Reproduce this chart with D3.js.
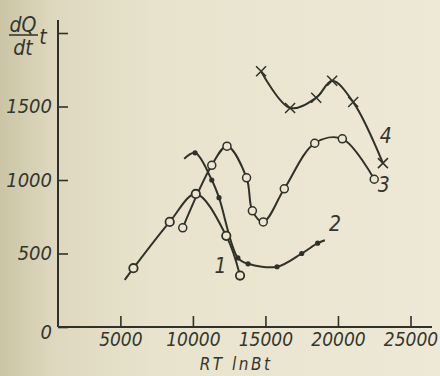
<!DOCTYPE html>
<html><head><meta charset="utf-8">
<script src="https://cdn.jsdelivr.net/npm/d3@7"></script>
<style>
html,body{margin:0;padding:0;background:#ebe6d0;}
svg{display:block;}
text{font-family:"Liberation Sans Narrow","DejaVu Sans Condensed",sans-serif;font-style:italic;fill:#33362c;}
</style></head>
<body><svg id="c" width="440" height="376"></svg>
<script>
// Data
const xTicks = [5000, 10000, 15000, 20000, 25000];
const yTicks = [0, 500, 1000, 1500, 2000];
const yTickLabels = ["0", "500", "1000", "1500", ""];
const curveNames = ["1", "2", "3", "4"];
const curve1 = [[5300, 320], [5900, 400], [8400, 715], [10200, 905], [12300, 620], [13250, 350]];
const curve1Marked = [false, true, true, true, true, true];
const curve2 = [[9400, 1145], [10150, 1185], [11300, 1000], [11800, 880], [13100, 470], [13800, 430], [15800, 410], [17500, 500], [18600, 570], [19100, 590]];
const curve2Marked = [false, true, true, true, true, true, true, true, true, false];
const curve3 = [[9300, 675], [11300, 1100], [12350, 1230], [13700, 1015], [14100, 790], [14850, 715], [16300, 940], [18400, 1250], [20300, 1280], [22500, 1005]];
const curve4 = [[14700, 1740], [16700, 1490], [18500, 1560], [19600, 1675], [21050, 1530], [23100, 1115]];
const labelPos = [[11900, 365], [19800, 650], [23150, 920], [23300, 1250]];

const ink = "#2f3229";
const svg = d3.select("#c");
const defs = svg.append("defs");
const g = defs.append("linearGradient").attr("id", "bg").attr("x1", 0).attr("x2", 1).attr("y1", 0).attr("y2", 0);
g.append("stop").attr("offset", "0").attr("stop-color", "#cbc5a6");
g.append("stop").attr("offset", "0.12").attr("stop-color", "#ddd8be");
g.append("stop").attr("offset", "0.35").attr("stop-color", "#e8e3cc");
g.append("stop").attr("offset", "1").attr("stop-color", "#eee9d6");
svg.append("rect").attr("width", 440).attr("height", 376).attr("fill", "url(#bg)");

const x = d3.scaleLinear().domain([700, 26000]).range([58, 425]);
const y = d3.scaleLinear().domain([0, 2000]).range([327, 33]);

// axes
const xAxis = d3.axisBottom(x).tickValues(xTicks).tickSize(-11).tickPadding(6).tickFormat(d3.format("d"));
const xa = svg.append("g").attr("transform", `translate(0,${y(0)})`).call(xAxis);
xa.select(".domain").attr("d", `M${x(700)},0H432`);
const yAxis = d3.axisLeft(y).tickValues(yTicks).tickSize(-10).tickPadding(6).tickFormat((d, i) => yTickLabels[i]);
const ya = svg.append("g").attr("transform", `translate(${x(700)},0)`).call(yAxis);
ya.select(".domain").attr("d", `M0,20V${y(0)}`);
svg.selectAll(".domain").attr("stroke", ink).attr("stroke-width", 2).attr("fill", "none");
svg.selectAll(".tick line").attr("stroke", ink).attr("stroke-width", 1.6);
svg.selectAll(".tick text").style("font-size", "20px").style("font-style", "italic").attr("fill", ink)
  .style("font-family", '"Liberation Sans Narrow","DejaVu Sans Condensed",sans-serif');
xa.selectAll(".tick text").style("font-size", "19px").attr("dy", "0.71em");
ya.selectAll(".tick text").filter(d => d === 0).attr("dy", "0.55em");

// axis titles
svg.append("text").attr("x", 236).attr("y", 370).attr("text-anchor", "middle").style("font-size", "17px").attr("letter-spacing", "2.5").text("RT lnBt");
svg.append("text").attr("x", 23).attr("y", 32).attr("text-anchor", "middle").style("font-size", "21px").text("dQ");
svg.append("line").attr("x1", 9).attr("x2", 38).attr("y1", 35).attr("y2", 35).attr("stroke", ink).attr("stroke-width", 1.5);
svg.append("text").attr("x", 23).attr("y", 55).attr("text-anchor", "middle").style("font-size", "21px").text("dt");
svg.append("text").attr("x", 43).attr("y", 44).attr("text-anchor", "middle").style("font-size", "21px").text("t");

// curves
const line = d3.line().x(d => x(d[0])).y(d => y(d[1])).curve(d3.curveCatmullRom.alpha(0.5));
[curve1, curve2, curve3, curve4].forEach(c => {
  svg.append("path").attr("d", line(c)).attr("fill", "none").attr("stroke", ink).attr("stroke-width", 2);
});

// markers
svg.append("g").selectAll("circle").data(curve1.filter((d, i) => curve1Marked[i])).join("circle")
  .attr("cx", d => x(d[0])).attr("cy", d => y(d[1])).attr("r", 4.2)
  .attr("fill", "#ece7d2").attr("stroke", ink).attr("stroke-width", 1.8);
svg.append("g").selectAll("circle").data(curve3).join("circle")
  .attr("cx", d => x(d[0])).attr("cy", d => y(d[1])).attr("r", 4)
  .attr("fill", "#ece7d2").attr("stroke", ink).attr("stroke-width", 1.5);
svg.append("g").selectAll("circle").data(curve2.filter((d, i) => curve2Marked[i])).join("circle")
  .attr("cx", d => x(d[0])).attr("cy", d => y(d[1])).attr("r", 2.6).attr("fill", ink);
svg.append("g").selectAll("path").data(curve4).join("path")
  .attr("d", d => { const cx = x(d[0]), cy = y(d[1]), s = 5; return `M${cx - s},${cy - s}L${cx + s},${cy + s}M${cx - s},${cy + s}L${cx + s},${cy - s}`; })
  .attr("stroke", ink).attr("stroke-width", 1.5);

// curve numbers
svg.append("g").selectAll("text").data(labelPos).join("text")
  .attr("x", d => x(d[0])).attr("y", d => y(d[1])).attr("text-anchor", "middle")
  .style("font-size", "21px").text((d, i) => curveNames[i]);
</script></body></html>
